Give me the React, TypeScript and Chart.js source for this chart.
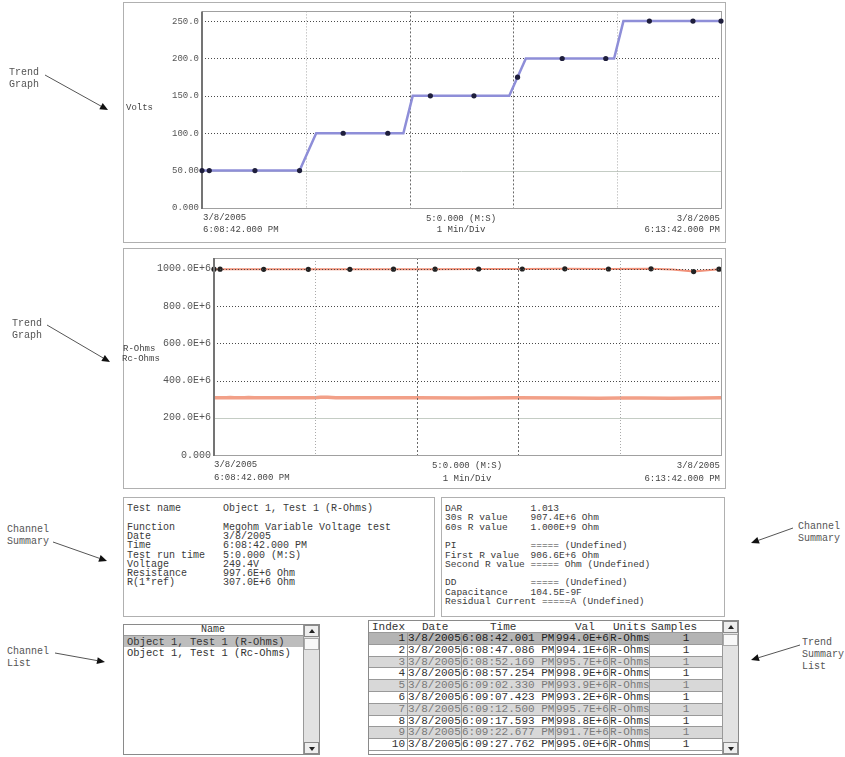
import React, { useEffect, useRef } from "react";
import { Chart, registerables } from "chart.js";

Chart.register(...registerables);

const FONT = '"Liberation Mono", "DejaVu Sans Mono", monospace';

// ---------- Data ----------
const xDivisions = [0, 1, 2, 3, 4, 5];

// Top trend graph (Volts)
const voltsLineX = [0, 0.94, 1.1, 1.94, 2.03, 2.96, 3.12, 3.97, 4.06, 5];
const voltsLineY = [50, 50, 100, 100, 150, 150, 200, 200, 250, 250];
const voltsDotX = [0, 0.07, 0.51, 0.94, 1.36, 1.79, 2.2, 2.62, 3.04, 3.47, 3.89, 4.31, 4.73, 5];
const voltsDotY = [50, 50, 50, 50, 100, 100, 150, 150, 175, 200, 200, 250, 250, 250];
const voltsTicks = [0, 50, 100, 150, 200, 250];
const voltsTickLabels = ["0.000", "50.00", "100.0", "150.0", "200.0", "250.0"];

// Bottom trend graph (R-Ohms / Rc-Ohms, in E+6)
const ohmsTicks = [0, 200, 400, 600, 800, 1000];
const ohmsTickLabels = ["0.000", "200.0E+6", "400.0E+6", "600.0E+6", "800.0E+6", "1000.0E+6"];
const rOhmsX = [0, 0.06, 0.49, 0.93, 1.34, 1.77, 2.18, 2.61, 3.04, 3.46, 3.89, 4.31, 4.52, 4.73, 4.98];
const rOhmsY = [998, 998, 997, 997, 997, 998, 998, 999, 999, 1000, 999, 1000, 996, 985, 998];
const rDotX = [0, 0.06, 0.49, 0.93, 1.34, 1.77, 2.18, 2.61, 3.04, 3.46, 3.89, 4.31, 4.73, 4.98];
const rDotY = [998, 998, 997, 997, 997, 998, 998, 999, 999, 1000, 999, 1000, 985, 998];
const rcOhmsX = [0, 0.12, 0.16, 0.2, 0.3, 0.34, 0.4, 0.5, 1.0, 1.05, 1.12, 1.2, 1.5, 2.0, 2.5, 3.0, 3.5, 3.8, 4.0, 4.2, 4.5, 4.8, 5.0];
const rcOhmsY = [307, 307, 309, 307, 307, 309, 307, 307, 307, 310, 310, 307, 307, 307, 306, 307, 306, 305, 306, 306, 305, 306, 307];

// Time axis labels
const axisStartDate = "3/8/2005";
const axisStartTime = "6:08:42.000 PM";
const axisSpan = "5:0.000 (M:S)";
const axisPerDiv = "1 Min/Div";
const axisEndDate = "3/8/2005";
const axisEndTime = "6:13:42.000 PM";

// Channel summary
const summaryLeftLabels = ["Test name", "", "Function", "Date", "Time", "Test run time", "Voltage", "Resistance", "R(1*ref)"];
const summaryLeftValues = ["Object 1, Test 1 (R-Ohms)", "", "Megohm Variable Voltage test", "3/8/2005", "6:08:42.000 PM", "5:0.000 (M:S)", "249.4V", "997.6E+6 Ohm", "307.0E+6 Ohm"];
const summaryRightLabels = ["DAR", "30s R value", "60s R value", "", "PI", "First R value", "Second R value", "", "DD", "Capacitance", "Residual Current"];
const summaryRightValues = ["1.013", "907.4E+6 Ohm", "1.000E+9 Ohm", "", "===== (Undefined)", "906.6E+6 Ohm", "===== Ohm (Undefined)", "", "===== (Undefined)", "104.5E-9F", "=====A (Undefined)"];

// Channel list
const channelNames = ["Object 1, Test 1 (R-Ohms)", "Object 1, Test 1 (Rc-Ohms)"];

// Trend summary list
const trendHeaders = ["Index", "Date", "Time", "Val", "Units", "Samples"];
const trendIndex = [1, 2, 3, 4, 5, 6, 7, 8, 9, 10];
const trendDate = ["3/8/2005", "3/8/2005", "3/8/2005", "3/8/2005", "3/8/2005", "3/8/2005", "3/8/2005", "3/8/2005", "3/8/2005", "3/8/2005"];
const trendTime = ["6:08:42.001 PM", "6:08:47.086 PM", "6:08:52.169 PM", "6:08:57.254 PM", "6:09:02.330 PM", "6:09:07.423 PM", "6:09:12.500 PM", "6:09:17.593 PM", "6:09:22.677 PM", "6:09:27.762 PM"];
const trendVal = ["994.0E+6", "994.1E+6", "995.7E+6", "998.9E+6", "993.9E+6", "993.2E+6", "995.7E+6", "998.8E+6", "991.7E+6", "995.0E+6"];
const trendUnits = ["R-Ohms", "R-Ohms", "R-Ohms", "R-Ohms", "R-Ohms", "R-Ohms", "R-Ohms", "R-Ohms", "R-Ohms", "R-Ohms"];
const trendSamples = [1, 1, 1, 1, 1, 1, 1, 1, 1, 1];

// Annotations
const leftNotes = [["Trend", "Graph"], ["Trend", "Graph"], ["Channel", "Summary"], ["Channel", "List"]];
const rightNotes = [["Channel", "Summary"], ["Trend", "Summary", "List"]];

// ---------- Helpers ----------
const pts = (xs: number[], ys: number[]) => xs.map((x, i) => ({ x, y: ys[i] }));

function gridPlugin(yTicks: number[], xTicks: number[], onTop: boolean) {
  const draw = (chart: any) => {
    const { ctx, chartArea: a } = chart;
    const xs = chart.scales.x;
    const ys = chart.scales.y;
    ctx.save();
    ctx.lineWidth = 1;
    yTicks.forEach((v, i) => {
      if (i === 0) return;
      const py = Math.round(ys.getPixelForValue(v)) + 0.5;
      if (i === 1) {
        ctx.strokeStyle = "#c4ccc4";
        ctx.setLineDash([]);
      } else {
        ctx.strokeStyle = "#4a4a4a";
        ctx.setLineDash([1, 2]);
      }
      ctx.beginPath();
      ctx.moveTo(a.left, py);
      ctx.lineTo(a.right, py);
      ctx.stroke();
    });
    xTicks.forEach((v, i) => {
      if (i === 0 || i === xTicks.length - 1) return;
      const px = Math.round(xs.getPixelForValue(v)) + 0.5;
      const dark = i === 2 || i === 3;
      ctx.strokeStyle = dark ? "#6a6a6a" : "#aaaaaa";
      ctx.setLineDash(dark ? [2, 2] : [1, 2]);
      ctx.beginPath();
      ctx.moveTo(px, a.top);
      ctx.lineTo(px, a.bottom);
      ctx.stroke();
    });
    ctx.setLineDash([]);
    ctx.strokeStyle = "#a0a0a0";
    ctx.strokeRect(Math.round(a.left) + 0.5, Math.round(a.top) + 0.5, Math.round(a.width), Math.round(a.height));
    ctx.strokeStyle = "#747474";
    ctx.lineWidth = 2;
    ctx.beginPath();
    ctx.moveTo(Math.round(a.left), a.top);
    ctx.lineTo(Math.round(a.left), a.bottom + 1);
    ctx.stroke();
    ctx.restore();
  };
  return {
    id: "trendGrid",
    beforeDatasetsDraw: (c: any) => {
      if (!onTop) draw(c);
    },
    afterDatasetsDraw: (c: any) => {
      if (onTop) draw(c);
    },
  };
}

function buildOptions(yMax: number, yTicks: number[], yLabels: string[], yWidth: number, xHeight: number, fontSize: number, padding: any) {
  return {
    animation: false,
    responsive: false,
    maintainAspectRatio: false,
    layout: { padding },
    plugins: { legend: { display: false }, tooltip: { enabled: false } },
    scales: {
      x: {
        type: "linear",
        min: xDivisions[0],
        max: xDivisions[xDivisions.length - 1],
        grid: { display: false, drawTicks: false },
        border: { display: false },
        ticks: { display: false },
        afterBuildTicks: (s: any) => {
          s.ticks = xDivisions.map((v) => ({ value: v }));
        },
        afterFit: (s: any) => {
          s.height = xHeight;
        },
      },
      y: {
        type: "linear",
        min: 0,
        max: yMax,
        grid: { display: false, drawTicks: false },
        border: { display: false },
        ticks: {
          autoSkip: false,
          padding: 3,
          color: "#555",
          font: { family: FONT, size: fontSize },
          callback: (_v: any, i: number) => yLabels[i],
        },
        afterBuildTicks: (s: any) => {
          s.ticks = yTicks.map((v) => ({ value: v }));
        },
        afterFit: (s: any) => {
          s.width = yWidth;
        },
      },
    },
  };
}

function voltsConfig(): any {
  return {
    type: "scatter",
    data: {
      datasets: [
        {
          data: pts(voltsDotX, voltsDotY),
          showLine: false,
          pointRadius: 2.6,
          pointBackgroundColor: "#1e1e3c",
          pointBorderWidth: 0,
          clip: false,
          order: 0,
        },
        {
          data: pts(voltsLineX, voltsLineY),
          showLine: true,
          borderColor: "#8e8ed8",
          borderWidth: 2.5,
          pointRadius: 0,
          order: 1,
        },
      ],
    },
    options: buildOptions(263, voltsTicks, voltsTickLabels, 79, 35, 9, { top: 6, right: 5, left: 0, bottom: 0 }),
    plugins: [gridPlugin(voltsTicks, xDivisions, false)],
  };
}

function ohmsConfig(): any {
  return {
    type: "scatter",
    data: {
      datasets: [
        {
          data: pts(rDotX, rDotY),
          showLine: false,
          pointRadius: 2.6,
          pointBackgroundColor: "#222",
          pointBorderWidth: 0,
          clip: false,
          order: 0,
        },
        {
          data: pts(rOhmsX, rOhmsY),
          showLine: true,
          borderColor: "#f09078",
          borderWidth: 2,
          pointRadius: 0,
          order: 1,
        },
        {
          data: pts(rcOhmsX, rcOhmsY),
          showLine: true,
          borderColor: "#f2a088",
          borderWidth: 3.5,
          pointRadius: 0,
          order: 2,
        },
      ],
    },
    options: buildOptions(1058, ohmsTicks, ohmsTickLabels, 91, 32, 10, { top: 7, right: 5, left: 0, bottom: 0 }),
    plugins: [gridPlugin(ohmsTicks, xDivisions, true)],
  };
}

function ChartCanvas({ left, top, width, height, build }: { left: number; top: number; width: number; height: number; build: () => any }) {
  const ref = useRef<HTMLCanvasElement>(null);
  useEffect(() => {
    const chart = new Chart(ref.current as HTMLCanvasElement, build());
    return () => chart.destroy();
  }, []);
  return <canvas ref={ref} width={width} height={height} style={{ position: "absolute", left, top, width, height }} />;
}

function Txt({ x, y, text, size, align = "left", color = "#444" }: { x: number; y: number; text: string; size: number; align?: "left" | "center" | "right"; color?: string }) {
  const style: React.CSSProperties = {
    position: "absolute",
    top: y,
    fontSize: size,
    lineHeight: `${size + 2}px`,
    fontFamily: FONT,
    color,
    whiteSpace: "pre",
  };
  if (align === "left") {
    style.left = x;
    style.transform = "translateY(-50%)";
  } else if (align === "right") {
    style.right = 845 - x;
    style.transform = "translateY(-50%)";
  } else {
    style.left = x;
    style.transform = "translate(-50%, -50%)";
  }
  return <div style={style}>{text}</div>;
}

function Box({ left, top, width, height, color = "#b0b0b0", bg }: { left: number; top: number; width: number; height: number; color?: string; bg?: string }) {
  return <div style={{ position: "absolute", left, top, width, height, border: `1px solid ${color}`, boxSizing: "border-box", background: bg }} />;
}

function Tri({ up }: { up: boolean }) {
  return (
    <div
      style={{
        position: "absolute",
        left: 4,
        top: up ? 3 : 4,
        width: 0,
        height: 0,
        borderLeft: "3px solid transparent",
        borderRight: "3px solid transparent",
        borderBottom: up ? "4px solid #222" : undefined,
        borderTop: up ? undefined : "4px solid #222",
      }}
    />
  );
}

function ScrollBar({ left, top, height }: { left: number; top: number; height: number }) {
  const btn: React.CSSProperties = { position: "absolute", left: 0, width: 15, height: 12, background: "#eeeeee", border: "1px solid #8a8a8a", boxSizing: "border-box" };
  return (
    <div style={{ position: "absolute", left, top, width: 16, height, background: "#e2e2e2", borderLeft: "1px solid #999", boxSizing: "border-box" }}>
      <div style={{ ...btn, top: 0 }}>
        <Tri up={true} />
      </div>
      <div style={{ ...btn, top: 13, background: "#f8f8f8", border: "1px solid #aaa" }} />
      <div style={{ ...btn, top: height - 12 }}>
        <Tri up={false} />
      </div>
    </div>
  );
}

function Arrow({ x1, y1, x2, y2 }: { x1: number; y1: number; x2: number; y2: number }) {
  const dx = x2 - x1;
  const dy = y2 - y1;
  const len = Math.hypot(dx, dy);
  const ux = dx / len;
  const uy = dy / len;
  const L = 8;
  const W = 3.5;
  const bx = x2 - ux * L;
  const by = y2 - uy * L;
  const p = `${x2},${y2} ${bx - uy * W},${by + ux * W} ${bx + uy * W},${by - ux * W}`;
  return (
    <g>
      <line x1={x1} y1={y1} x2={bx} y2={by} stroke="#555" strokeWidth={1} />
      <polygon points={p} fill="#111" />
    </g>
  );
}

export default function App() {
  const leftNotePos = [
    { x: 9, y: 73 },
    { x: 12, y: 324 },
    { x: 7, y: 530 },
    { x: 7, y: 652 },
  ];
  const rightNotePos = [
    { x: 798, y: 527 },
    { x: 802, y: 643 },
  ];
  const arrows = [
    [45, 75, 108, 110],
    [47, 325, 110, 362],
    [53, 542, 107, 561],
    [55, 653, 105, 662],
    [793, 528, 751, 543],
    [800, 645, 751, 660],
  ];

  const trendCols = [
    { x: 368, w: 40, align: "right" as const },
    { x: 408, w: 54, align: "left" as const },
    { x: 462, w: 94, align: "right" as const },
    { x: 556, w: 54, align: "left" as const },
    { x: 610, w: 40, align: "left" as const },
    { x: 650, w: 72, align: "center" as const },
  ];
  const headerX = [372, 422, 490, 575, 613, 651];
  const rowTop = 633;
  const rowH = 11.8;
  const lineStep = 9.3;

  const padLine = (label: string, value: string, n: number) => (label.length >= n ? label + " " : label.padEnd(n)) + value;

  return (
    <div style={{ position: "absolute", left: 0, top: 0, width: 845, height: 757, background: "#fff", overflow: "hidden", fontFamily: FONT }}>
      {/* Panels */}
      <Box left={123} top={2} width={603} height={241} />
      <Box left={123} top={248} width={603} height={241} />
      <Box left={123} top={497} width={312} height={120} />
      <Box left={441} top={497} width={284} height={120} />

      {/* Top chart */}
      <ChartCanvas left={123} top={3} width={603} height={240} build={voltsConfig} />
      <Txt x={126} y={108} text="Volts" size={9} />
      <Txt x={203} y={218} text={axisStartDate} size={9} />
      <Txt x={203} y={230} text={axisStartTime} size={9} />
      <Txt x={461} y={219} text={axisSpan} size={9} align="center" />
      <Txt x={461} y={230} text={axisPerDiv} size={9} align="center" />
      <Txt x={720} y={219} text={axisEndDate} size={9} align="right" />
      <Txt x={720} y={230} text={axisEndTime} size={9} align="right" />

      {/* Bottom chart */}
      <ChartCanvas left={123} top={249} width={603} height={238} build={ohmsConfig} />
      <Txt x={123} y={349} text="R-Ohms" size={9} />
      <Txt x={122} y={359} text="Rc-Ohms" size={9} />
      <Txt x={214} y={465} text={axisStartDate} size={9} />
      <Txt x={214} y={478} text={axisStartTime} size={9} />
      <Txt x={467} y={466} text={axisSpan} size={9} align="center" />
      <Txt x={467} y={479} text={axisPerDiv} size={9} align="center" />
      <Txt x={720} y={466} text={axisEndDate} size={9} align="right" />
      <Txt x={720} y={479} text={axisEndTime} size={9} align="right" />

      {/* Channel summary left */}
      {summaryLeftLabels.map((l, i) => (
        <Txt key={"sl" + i} x={127} y={509 + i * lineStep} text={padLine(l, summaryLeftValues[i], 16)} size={10} color="#3a3a3a" />
      ))}
      {/* Channel summary right */}
      {summaryRightLabels.map((l, i) => (
        <Txt key={"sr" + i} x={445} y={509 + i * lineStep} text={padLine(l, summaryRightValues[i], 15)} size={9.5} color="#3a3a3a" />
      ))}

      {/* Channel list */}
      <Box left={123} top={624} width={197} height={131} color="#8a8a8a" />
      <div style={{ position: "absolute", left: 124, top: 625, width: 179, height: 11, borderBottom: "1px solid #999", boxSizing: "border-box" }} />
      <Txt x={213} y={630} text="Name" size={10} align="center" color="#333" />
      <div style={{ position: "absolute", left: 124, top: 636, width: 179, height: 11, background: "#bdbdbd" }} />
      {channelNames.map((n, i) => (
        <Txt key={"cn" + i} x={127} y={641.5 + i * 11} text={n} size={10.5} color="#333" />
      ))}
      <ScrollBar left={303} top={625} height={129} />

      {/* Trend summary list */}
      <Box left={368} top={620} width={371} height={135} color="#8a8a8a" />
      {trendHeaders.map((h, i) => (
        <Txt key={"th" + i} x={headerX[i]} y={627} text={h} size={11} color="#333" />
      ))}
      <div style={{ position: "absolute", left: 369, top: 632, width: 353, height: 1, background: "#999" }} />
      {trendIndex.map((idx, r) => {
        const top = rowTop + r * rowH;
        const bg = r === 0 ? "#b4b4b4" : r % 2 === 0 ? "#d8d8d8" : "#ffffff";
        const fg = r === 0 ? "#222" : r % 2 === 0 ? "#7a7a7a" : "#333";
        const cells = [String(idx), trendDate[r], trendTime[r], trendVal[r], trendUnits[r], String(trendSamples[r])];
        return (
          <div key={"tr" + r} style={{ position: "absolute", left: 369, top, width: 353, height: rowH, background: bg, borderBottom: "1px solid #999", boxSizing: "border-box" }}>
            {trendCols.map((c, ci) => (
              <div
                key={ci}
                style={{
                  position: "absolute",
                  left: c.x - 369,
                  top: 0,
                  width: c.w,
                  height: rowH - 1,
                  borderRight: ci < trendCols.length - 1 ? "1px solid #999" : undefined,
                  boxSizing: "border-box",
                  fontSize: 11,
                  lineHeight: `${rowH - 1}px`,
                  fontFamily: FONT,
                  color: fg,
                  textAlign: c.align,
                  paddingRight: c.align === "right" ? 2 : 0,
                  whiteSpace: "pre",
                  overflow: "hidden",
                }}
              >
                {cells[ci]}
              </div>
            ))}
          </div>
        );
      })}
      <ScrollBar left={722} top={621} height={133} />

      {/* Annotations */}
      {leftNotes.map((lines, i) =>
        lines.map((t, j) => <Txt key={`ln${i}-${j}`} x={leftNotePos[i].x} y={leftNotePos[i].y + j * 11.5} text={t} size={10} color="#555" />)
      )}
      {rightNotes.map((lines, i) =>
        lines.map((t, j) => <Txt key={`rn${i}-${j}`} x={rightNotePos[i].x} y={rightNotePos[i].y + j * 12} text={t} size={10} color="#555" />)
      )}
      <svg width={845} height={757} style={{ position: "absolute", left: 0, top: 0, pointerEvents: "none" }}>
        {arrows.map((a, i) => (
          <Arrow key={"ar" + i} x1={a[0]} y1={a[1]} x2={a[2]} y2={a[3]} />
        ))}
      </svg>
    </div>
  );
}
